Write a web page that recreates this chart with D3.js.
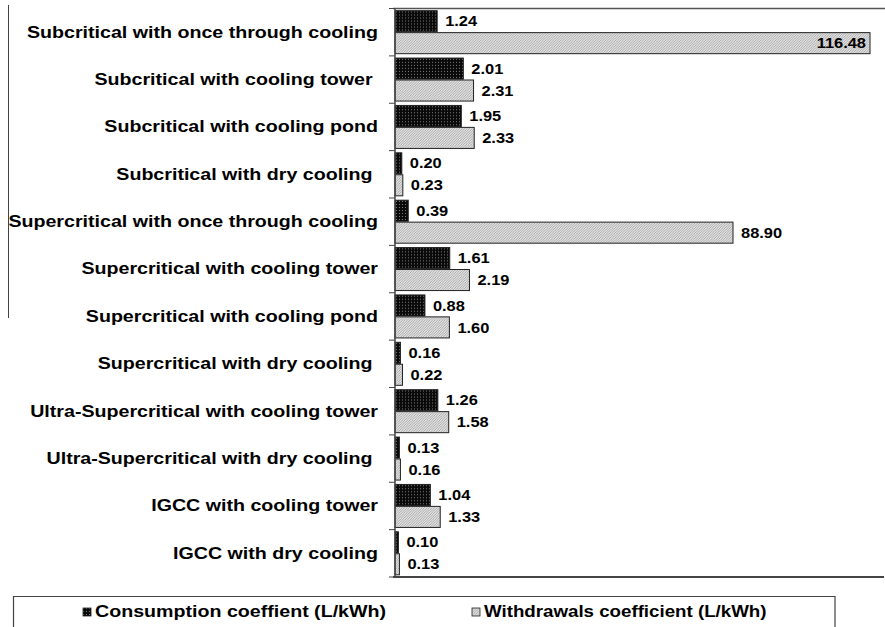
<!DOCTYPE html>
<html>
<head>
<meta charset="utf-8">
<script src="https://cdn.jsdelivr.net/npm/d3@7/dist/d3.min.js"></script>
<style>
html,body{margin:0;padding:0;background:#fff;}
svg{display:block;}
text{font-family:"Liberation Sans",Arial,sans-serif;font-weight:bold;fill:#000;}
</style>
</head>
<body>
<svg id="chart" width="885" height="627"></svg>
<script>
const categories = [
  "Subcritical with once through cooling",
  "Subcritical with cooling tower ",
  "Subcritical with cooling pond",
  "Subcritical with dry cooling ",
  "Supercritical with once through cooling",
  "Supercritical with cooling tower",
  "Supercritical with cooling pond",
  "Supercritical with dry cooling ",
  "Ultra-Supercritical with cooling tower",
  "Ultra-Supercritical with dry cooling ",
  "IGCC with cooling tower",
  "IGCC with dry cooling"
];
const seriesNames = ["Consumption coeffient (L/kWh)", "Withdrawals coefficient (L/kWh)"];
const consumption = [1.24, 2.01, 1.95, 0.20, 0.39, 1.61, 0.88, 0.16, 1.26, 0.13, 1.04, 0.10];
const withdrawals = [116.48, 2.31, 2.33, 0.23, 88.90, 2.19, 1.60, 0.22, 1.58, 0.16, 1.33, 0.13];
// broken value axis: domain stops (original chart compresses the two large values)
const xDomainStops = [0, 3, 88.9, 116.48];

(function(){
const svg = d3.select("#chart");
const defs = svg.append("defs");
const SX = 1.19; // horizontal stretch of the source typography

const p1 = defs.append("pattern").attr("id","patCons").attr("patternUnits","userSpaceOnUse")
  .attr("width",3).attr("height",3);
p1.append("rect").attr("width",3).attr("height",3).attr("fill","#0a0a0a");
p1.append("rect").attr("x",0).attr("y",0).attr("width",1).attr("height",1).attr("fill","#7a7a7a");
const p2 = defs.append("pattern").attr("id","patWith").attr("patternUnits","userSpaceOnUse")
  .attr("width",2.5).attr("height",2.5);
p2.append("rect").attr("width",2.5).attr("height",2.5).attr("fill","#e4e4e4");
p2.append("path").attr("d","M0,2.5 L2.5,0 M-1,1 L1,-1 M1.5,3.5 L3.5,1.5").attr("stroke","#9a9a9a").attr("stroke-width",0.8);

const mLeft = 395, mRight = 884, mTop = 8.5, mBottom = 577;

const y = d3.scaleBand().domain(categories).range([mTop, mBottom]).padding(0);
const ySub = d3.scaleBand().domain(seriesNames).range([0, y.bandwidth()]).paddingInner(0.04).paddingOuter(0.1);
const x = d3.scaleLinear().domain(xDomainStops).range([mLeft, mLeft + 102, mLeft + 338, mLeft + 475]);

const data = categories.map((c, i) => ({cat: c, vals: [consumption[i], withdrawals[i]]}));

svg.append("line").attr("x1",mLeft-2).attr("x2",885).attr("y1",mTop).attr("y2",mTop)
  .attr("stroke","#555").attr("stroke-width",1.5);
svg.append("line").attr("x1",8.5).attr("x2",8.5).attr("y1",5).attr("y2",318)
  .attr("stroke","#444").attr("stroke-width",1);

const g = svg.append("g");
const groups = g.selectAll("g.cat").data(data).join("g").attr("class","cat")
  .attr("transform", d => `translate(0,${y(d.cat)})`);

groups.selectAll("rect").data(d => d.vals.map((v, j) => ({v, s: seriesNames[j], j})))
  .join("rect")
  .attr("x", x(0))
  .attr("y", d => ySub(d.s))
  .attr("width", d => x(d.v) - x(0))
  .attr("height", ySub.bandwidth())
  .attr("fill", d => d.j === 0 ? "url(#patCons)" : "url(#patWith)")
  .attr("stroke", "#222").attr("stroke-width", 1);

groups.selectAll("text.val").data(d => d.vals.map((v, j) => ({v, s: seriesNames[j], j})))
  .join("text").attr("class","val")
  .attr("transform", d => `translate(${d.v > 100 ? x(d.v) - 4 : x(d.v) + 8},${ySub(d.s) + ySub.bandwidth()/2 + 1.5}) scale(${SX},1)`)
  .attr("text-anchor", d => d.v > 100 ? "end" : "start")
  .attr("dominant-baseline","middle")
  .style("font-size","13.8px")
  .text(d => d.v.toFixed(2));

const yAxisG = svg.append("g");
yAxisG.append("line").attr("x1",mLeft).attr("x2",mLeft).attr("y1",mTop).attr("y2",mBottom)
  .attr("stroke","#444").attr("stroke-width",1.5);
const boundaries = categories.map(c => y(c)).concat([mBottom]);
yAxisG.selectAll("line.tick").data(boundaries).join("line").attr("class","tick")
  .attr("x1",mLeft-6).attr("x2",mLeft).attr("y1",d=>d).attr("y2",d=>d)
  .attr("stroke","#444").attr("stroke-width",1);
yAxisG.selectAll("text").data(categories).join("text")
  .attr("transform", d => `translate(378,${y(d) + y.bandwidth()/2 + 1}) scale(${SX},1)`)
  .attr("text-anchor","end")
  .attr("dominant-baseline","middle")
  .attr("xml:space","preserve")
  .style("white-space","pre")
  .style("font-size","16.5px")
  .text(d => d);

svg.append("line").attr("x1",mLeft-2).attr("x2",mRight).attr("y1",mBottom).attr("y2",mBottom)
  .attr("stroke","#444").attr("stroke-width",2);

const lg = svg.append("g");
lg.append("path").attr("d","M13.5,630 L13.5,596.5 L835,596.5 L835,630")
  .attr("fill","none").attr("stroke","#444").attr("stroke-width",1.2);
const legX = [83, 472];
const legSX = [SX, 1.135];
const legItems = lg.selectAll("g.item").data(seriesNames).join("g").attr("class","item")
  .attr("transform",(d,i)=>`translate(${legX[i]},608)`);
legItems.append("rect").attr("width",8).attr("height",8)
  .attr("fill",(d,i)=> i===0 ? "url(#patCons)" : "url(#patWith)")
  .attr("stroke","#222").attr("stroke-width",0.8);
legItems.append("text").attr("transform",(d,i)=>`translate(12,5) scale(${legSX[i]},1)`).attr("dominant-baseline","middle")
  .style("font-size","16.5px").text(d=>d);
})();
</script>
</body>
</html>
